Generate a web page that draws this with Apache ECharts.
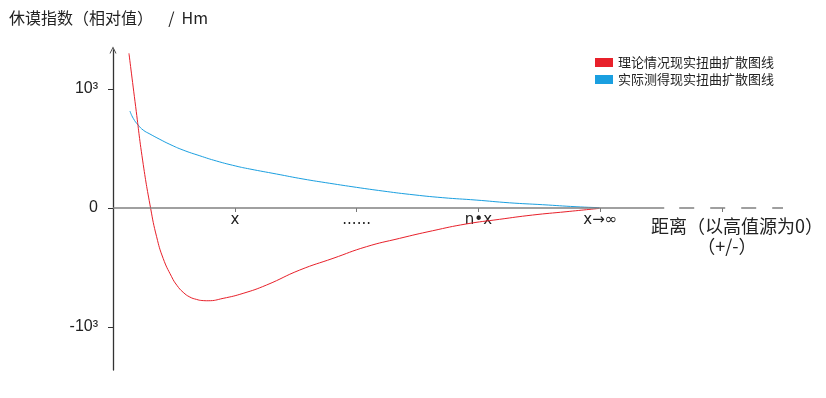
<!DOCTYPE html>
<html>
<head>
<meta charset="utf-8">
<script src="https://cdn.jsdelivr.net/npm/echarts@6/dist/echarts.min.js"></script>
<style>
html,body{margin:0;padding:0;background:#fff;}
#chart{width:826px;height:398px;}
</style>
</head>
<body>
<div id="chart"></div>
<script>
// ---- data ----
var seriesNames = ['理论情况现实扭曲扩散图线', '实际测得现实扭曲扩散图线'];
var titleText = '休谟指数（相对值）　  /  Hm';
var xAxisName = '距离（以高值源为0）\n（+/-）     ';
var xTickValues = [1, 2, 3, 4];
var xTickLabels = ['x', '......', 'n•x', 'x→∞'];
var xTickMarks = [1, 2, 3, 4, 5];
var yTickValues = [-1, 0, 1];
var yTickLabels = ['-10³', '0', '10³'];
// theoretical curve (red): [distance, value in 10^3]
var theoryX = [0.131, 0.186, 0.243, 0.309, 0.358, 0.412, 0.481, 0.525, 0.576, 0.631, 0.686, 0.730, 0.781, 0.904, 1.068, 1.260, 1.533, 1.806, 2.080, 2.352, 2.623, 2.899, 3.172, 3.443, 3.719, 3.992];
var theoryY = [1.300, 0.852, 0.403, -0.003, -0.241, -0.424, -0.577, -0.650, -0.708, -0.748, -0.768, -0.777, -0.779, -0.759, -0.717, -0.647, -0.521, -0.423, -0.325, -0.255, -0.191, -0.134, -0.095, -0.059, -0.031, -0.003];
// measured curve (blue)
var measuredX = [0.139, 0.166, 0.207, 0.248, 0.303, 0.385, 0.467, 0.576, 0.713, 0.850, 1.008, 1.123, 1.342, 1.560, 1.779, 1.998, 2.215, 2.434, 2.707, 2.981, 3.254, 3.527, 3.801, 3.992];
var measuredY = [0.815, 0.754, 0.697, 0.655, 0.622, 0.577, 0.535, 0.487, 0.439, 0.395, 0.353, 0.328, 0.286, 0.244, 0.208, 0.174, 0.143, 0.115, 0.087, 0.067, 0.044, 0.028, 0.011, 0.003];

function zip(a, b) { return a.map(function (v, i) { return [v, b[i]]; }); }

var FONT = '"Noto Sans CJK SC", "Noto Sans", sans-serif';
var LATIN = '"Liberation Sans", "DejaVu Sans", "Noto Sans CJK SC", sans-serif';
var XLAB = '"DejaVu Sans", "Noto Sans CJK SC", sans-serif';
var RED = '#e8202a';
var BLUE = '#1a9fe0';

var chart = echarts.init(document.getElementById('chart'), null, {renderer: 'canvas'});
chart.setOption({
  animation: false,
  backgroundColor: '#fff',
  textStyle: {fontFamily: FONT},
  title: {
    text: titleText,
    left: 4, top: 5,
    textStyle: {fontFamily: FONT, fontSize: 16, fontWeight: 'normal', color: '#222'}
  },
  legend: {
    data: [seriesNames[0], seriesNames[1]],
    orient: 'vertical',
    left: 595, top: 56,
    padding: 0,
    itemGap: 4,
    itemWidth: 18, itemHeight: 9,
    icon: 'rect',
    textStyle: {fontFamily: FONT, fontSize: 13, color: '#222'}
  },
  grid: {left: 113, right: 42, top: 50, bottom: 28, containLabel: false},
  xAxis: {
    type: 'value',
    min: 0, max: 5.5,
    position: 'bottom',
    offset: -162,
    name: xAxisName,
    nameLocation: 'end',
    nameGap: -46,
    nameTextStyle: {fontFamily: FONT, fontSize: 18, color: '#222', align: 'center', verticalAlign: 'top', lineHeight: 20, padding: [8, 0, 0, 0]},
    axisLine: {show: true, onZero: false, lineStyle: {color: 'rgba(0,0,0,0)', width: 0}},
    axisTick: {show: true, length: 4, customValues: xTickMarks, lineStyle: {color: '#777', width: 1}},
    axisLabel: {
      customValues: xTickValues,
      margin: 5,
      fontSize: 15, color: '#222', fontFamily: XLAB,
      formatter: function (v) { var i = xTickValues.indexOf(v); return i >= 0 ? xTickLabels[i] : ''; }
    },
    splitLine: {show: false}
  },
  yAxis: {
    type: 'value',
    min: -1.361, max: 1.328,
    axisLine: {show: true, onZero: false, symbol: ['none', 'path://M0,10 L5,0 L10,10 L8.8,10 L5,2.4 L1.2,10 Z'], symbolSize: [11, 7], symbolOffset: [0, 0], lineStyle: {color: '#333', width: 1.3}},
    axisTick: {show: true, length: 5, customValues: yTickValues, lineStyle: {color: '#333'}},
    axisLabel: {
      customValues: yTickValues,
      margin: 15,
      fontSize: 16, color: '#222', fontFamily: LATIN,
      formatter: function (v) { var i = yTickValues.indexOf(v); return i >= 0 ? yTickLabels[i] : ''; }
    },
    splitLine: {show: false}
  },
  series: [
    {
      name: seriesNames[1],
      type: 'line',
      smooth: 0.5,
      showSymbol: false,
      symbol: 'none',
      color: BLUE,
      lineStyle: {color: BLUE, width: 1},
      data: zip(measuredX, measuredY),
      z: 2,
      markLine: {
        silent: true,
        symbol: ['none', 'none'],
        label: {show: false},
        animation: false,
        data: [
          [{coord: [0, 0], lineStyle: {color: '#808080', width: 1.6, type: 'solid'}}, {coord: [4.525, 0]}],
          [{coord: [4.648, 0], lineStyle: {color: '#808080', width: 1.6, type: [15, 16]}}, {coord: [5.5, 0]}]
        ]
      }
    },
    {
      name: seriesNames[0],
      type: 'line',
      smooth: 0.5,
      showSymbol: false,
      symbol: 'none',
      color: RED,
      lineStyle: {color: RED, width: 1},
      data: zip(theoryX, theoryY),
      z: 3
    }
  ]
});
</script>
</body>
</html>
